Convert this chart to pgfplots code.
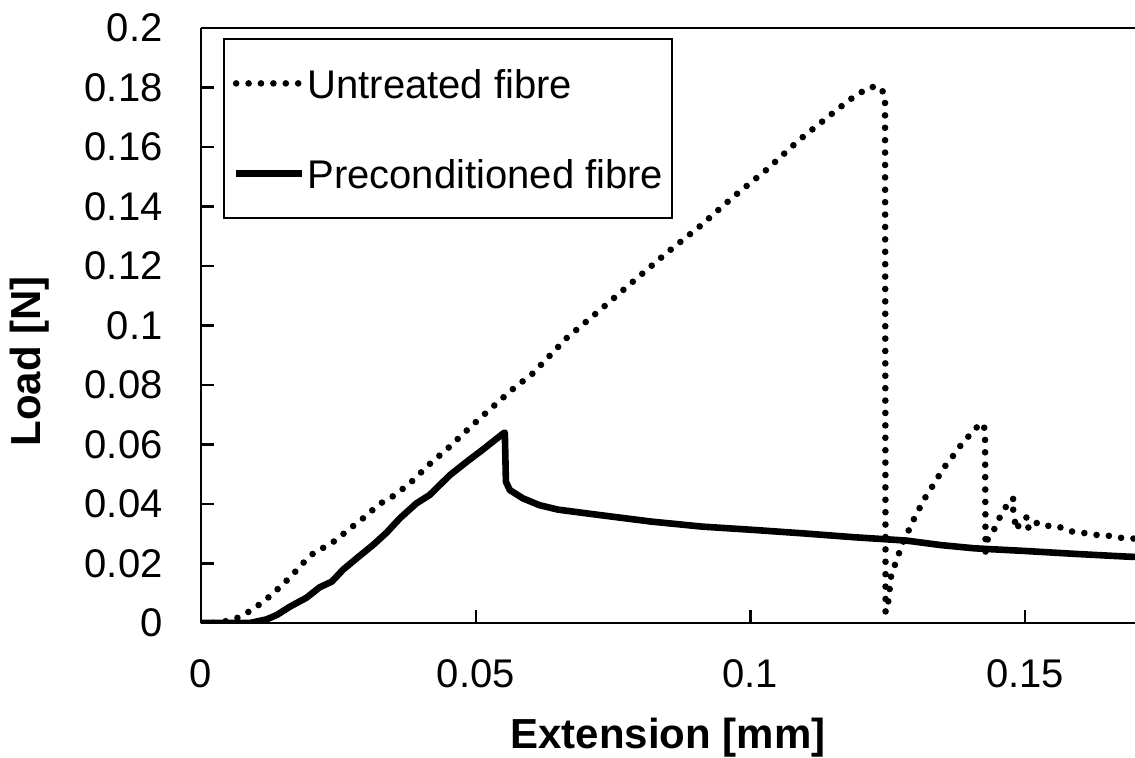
\documentclass[border=0pt]{standalone}
\usepackage{fontspec}
\setmainfont{Liberation Sans}
\usepackage{pgfplots}
\pgfplotsset{compat=1.18}
\usepackage{pgfplotstable}

\pgfplotstableread{
x y
0 0
0.002 0.0
0.0038 0.0004
0.0059 0.0010
0.0076 0.0027
0.0093 0.0044
0.0109 0.0066
0.0124 0.0088
0.0139 0.0113
0.0154 0.0139
0.0168 0.0165
0.0181 0.0192
0.0195 0.0219
0.0210 0.0243
0.0224 0.0254
0.0239 0.0270
0.0253 0.0290
0.0268 0.0313
0.0295 0.0352
0.0325 0.0400
0.0353 0.0430
0.0381 0.0471
0.0416 0.0534
0.0447 0.0583
0.0475 0.0632
0.0504 0.0682
0.0535 0.0733
0.0564 0.0781
0.0604 0.0839
0.0665 0.0957
0.0725 0.1050
0.0786 0.1147
0.0847 0.1243
0.0907 0.1332
0.0968 0.1431
0.1029 0.1523
0.1089 0.1624
0.1150 0.1714
0.1180 0.1758
0.1216 0.1801
0.1235 0.1803
0.1245 0.1775
0.1246 0.0036
0.1249 0.0045
0.1252 0.0090
0.1256 0.0156
0.1263 0.0195
0.1270 0.0232
0.1277 0.0268
0.1286 0.0302
0.1294 0.0337
0.1304 0.0371
0.1313 0.0406
0.1324 0.0439
0.1335 0.0470
0.1345 0.0501
0.1357 0.0534
0.1369 0.0562
0.1381 0.0593
0.1394 0.0621
0.1407 0.0649
0.1421 0.0673
0.1427 0.0651
0.1428 0.0240
0.1432 0.0282
0.1444 0.0316
0.1453 0.0352
0.1463 0.0383
0.1472 0.0417
0.1481 0.0417
0.1478 0.0377
0.1482 0.0335
0.1484 0.0313
0.1493 0.0346
0.1505 0.0357
0.1506 0.0316
0.1515 0.0335
0.1527 0.0337
0.1536 0.0327
0.1549 0.0326
0.1559 0.0326
0.1574 0.0313
0.1591 0.0305
0.1609 0.0302
0.1627 0.0296
0.1645 0.0296
0.1665 0.0288
0.1683 0.0285
0.1720 0.0282
}\untreated

\pgfplotstableread{
x y
0 0
0.0089 0.0
0.0119 0.0012
0.0138 0.0027
0.0162 0.0055
0.0192 0.0085
0.0216 0.0120
0.0238 0.0139
0.0259 0.0180
0.0289 0.0226
0.0313 0.0262
0.0338 0.0304
0.0362 0.0352
0.0392 0.0402
0.0416 0.0430
0.0453 0.0497
0.0483 0.0541
0.0513 0.0583
0.0550 0.0637
0.0553 0.0640
0.0555 0.0475
0.0562 0.0447
0.0586 0.0419
0.0616 0.0396
0.0650 0.0381
0.0725 0.0363
0.0819 0.0341
0.0912 0.0324
0.1005 0.0313
0.1098 0.0301
0.1191 0.0288
0.1284 0.0277
0.1346 0.0262
0.1408 0.0251
0.1501 0.0242
0.1594 0.0232
0.1687 0.0223
0.1720 0.0221
}\precond

\begin{document}
\begin{tikzpicture}
\begin{axis}[
  width=467bp, height=297.5bp, scale only axis,
  xmin=0, xmax=0.17, ymin=0, ymax=0.2,
  axis x line*=box, axis y line*=left,
  axis line style={line width=1.2bp, black},
  xtick={0,0.05,0.1,0.15},
  xticklabels={0,0.05,0.1,0.15},
  ytick={0,0.02,0.04,0.06,0.08,0.1,0.12,0.14,0.16,0.18,0.2},
  yticklabels={0,0.02,0.04,0.06,0.08,0.1,0.12,0.14,0.16,0.18,0.2},
  xtick pos=left, ytick pos=left,
  tick align=inside,
  major tick length=6.5bp,
  every tick/.style={line width=1.1bp, black},
  xticklabel style={anchor=north, inner sep=0pt, yshift=-18bp, font=\fontsize{20bp}{24bp}\selectfont},
  yticklabel style={anchor=east, inner sep=0pt, xshift=-19bp, font=\fontsize{20bp}{24bp}\selectfont},
  xlabel={\textbf{Extension [mm]}},
  ylabel={\textbf{Load [N]}},
  every axis x label/.style={at={(rel axis cs:0.5,0)}, anchor=north, inner sep=0pt, yshift=-47.5bp, font=\fontsize{21bp}{25bp}\selectfont},
  every axis y label/.style={at={(rel axis cs:-0.1831,0.4395)}, anchor=center, rotate=90, inner sep=0pt, font=\fontsize{21bp}{25bp}\selectfont},
  legend cell align=left,
  legend image code/.code={\draw[#1] (0bp,0bp) -- (33bp,0bp);},
  legend style={at={(rel axis cs:0.02355,0.9832)}, anchor=north west,
    draw=black, line width=0.9bp,
    inner xsep=4.5bp, inner ysep=14.75bp,
    row sep=30bp, column sep=1bp,
    nodes={inner sep=0pt, text height=15bp, text depth=0bp},
    font=\fontsize{20bp}{24bp}\selectfont},
]
\addplot[black, line width=3.3bp, line cap=round, dash pattern=on 0bp off 6.2bp] table[x=x,y=y]{\untreated};
\addlegendentry{Untreated fibre}
\addplot[black, line width=3.3bp, line join=round] table[x=x,y=y]{\precond};
\addlegendentry{Preconditioned fibre}
\end{axis}
\pgfresetboundingbox
\path[use as bounding box] (-100.5bp,-67.5bp) rectangle (467bp,311.5bp);
\end{tikzpicture}
\end{document}
